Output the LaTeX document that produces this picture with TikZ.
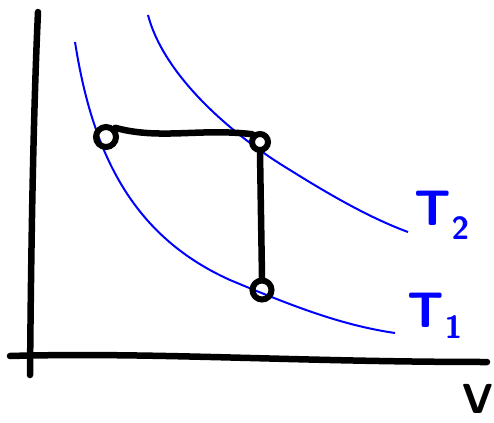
\documentclass[tikz,border=0pt]{standalone}
\usepackage{tikz}
\usetikzlibrary{positioning}

\begin{document}
\begin{tikzpicture}[
  x=1pt, y=-1pt,
  axis/.style={line width=6.5pt, line cap=round, black},
  iso/.style={line width=2pt, blue},
  state/.style={draw, circle, line width=6pt, minimum size=16pt, inner sep=0pt},
  proc/.style={line width=6.5pt, line cap=round},
  templabel/.style={blue, font=\fontsize{50}{50}\selectfont\sffamily\bfseries}
]
\useasboundingbox (0,0) rectangle (494,422);
% axes
\draw[axis] (38,12) .. controls (33,120) and (31,260) .. (30,375);
\draw[axis] (10,356) .. controls (150,352) and (300,362) .. (487,362);
\node[font=\fontsize{42}{42}\selectfont\sffamily\bfseries, inner sep=0pt] (vlab) at (478,399) {V};
% isotherms
\draw[iso] (148,15) .. controls (165,80) and (240,140) .. (290,170)
  .. controls (330,195) and (370,218) .. (408,232);
\draw[iso] (75,42) .. controls (92,150) and (130,235) .. (230,280)
  .. controls (290,305) and (340,325) .. (395,333);
\node[templabel] (t2) at (442,215) {T\raisebox{-0.28em}{\fontsize{32}{32}\selectfont 2}};
\node[templabel] (t1) at (435,316) {T\raisebox{-0.22em}{\fontsize{32}{32}\selectfont 1}};
% states
\node[state, minimum width=20pt] (a) at (106,137) {};
\node[state] (b) at (260,142) {};
\node[state, minimum width=13pt, minimum height=19pt] (c) at (262,290) {};
\draw[proc] (a.north east) .. controls (160,140) and (200,128) .. (b.north west);
\draw[proc] (b.south) -- (c.north);
\end{tikzpicture}
\end{document}
